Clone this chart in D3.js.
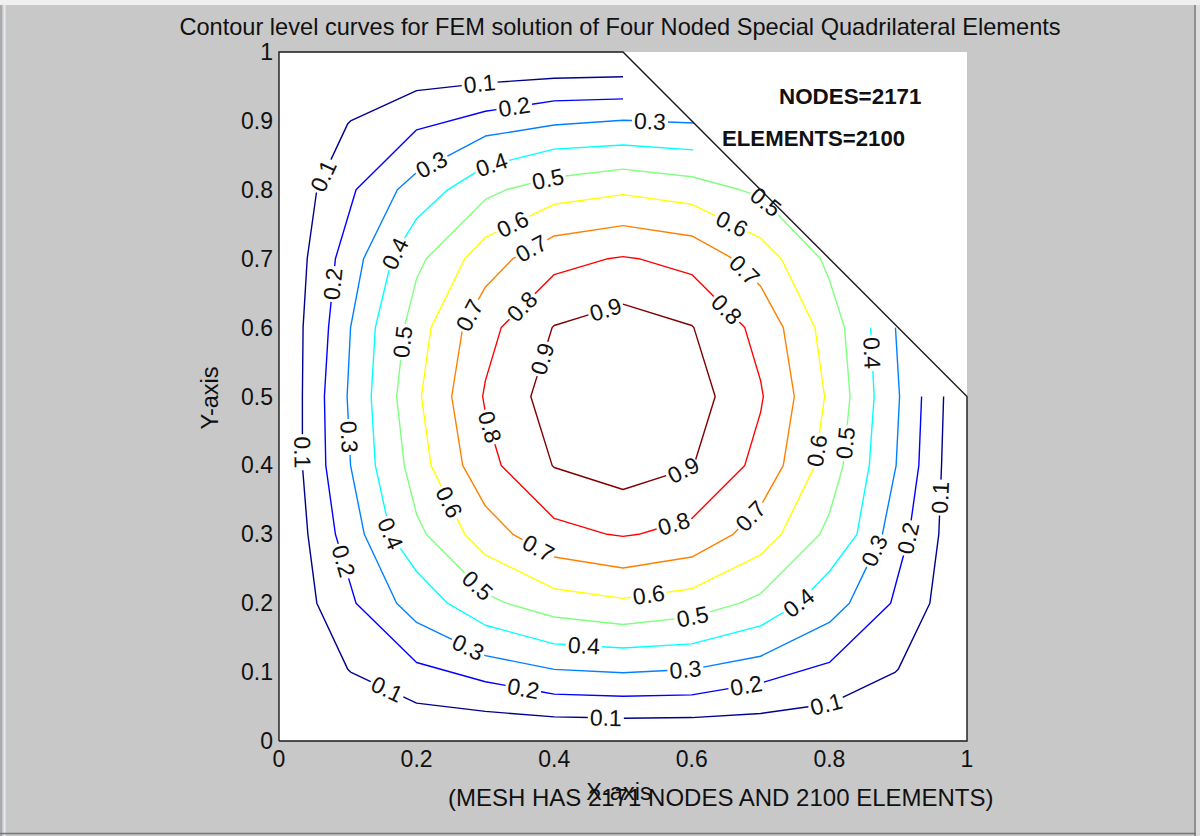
<!DOCTYPE html>
<html>
<head>
<meta charset="utf-8">
<script src="https://cdn.jsdelivr.net/npm/d3@7"></script>
<style>
  html, body { margin: 0; padding: 0; background: #c8c8c8; }
  svg { display: block; }
  text { font-family: "Liberation Sans", Arial, sans-serif; }
</style>
</head>
<body>
<svg id="fig" width="1200" height="836"></svg>
<script>
// ---- chart text ----
const titleText = "Contour level curves for FEM solution of Four Noded Special Quadrilateral Elements";
const xAxisTitle = "X-axis";
const yAxisTitle = "Y-axis";
const meshNote = "(MESH HAS 2171 NODES AND 2100 ELEMENTS)";
const nodesNote = "NODES=2171";
const elementsNote = "ELEMENTS=2100";

// ---- axes ----
const xTickValues = [0, 0.2, 0.4, 0.6, 0.8, 1];
const xTickText = ["0", "0.2", "0.4", "0.6", "0.8", "1"];
const yTickValues = [0, 0.1, 0.2, 0.3, 0.4, 0.5, 0.6, 0.7, 0.8, 0.9, 1];
const yTickText = ["0", "0.1", "0.2", "0.3", "0.4", "0.5", "0.6", "0.7", "0.8", "0.9", "1"];

// ---- domain outline (pentagon with the cut corner) ----
const domainOutline = [[0, 0], [1, 0], [1, 0.5], [0.5, 1], [0, 1], [0, 0]];

// ---- contour levels and their colours ----
const levels = [0.1, 0.2, 0.3, 0.4, 0.5, 0.6, 0.7, 0.8, 0.9];
const levelColors = ["#00008f", "#0000ff", "#0080ff", "#00ffff", "#80ff80",
                     "#ffff00", "#ff8000", "#ff0000", "#800000"];
const levelClosed = [false, false, false, false, true, true, true, true, true];

// ---- contour polylines (x, y), traversed counter-clockwise ----
const curve01 = [[0.5,0.964],[0.4,0.962],[0.3,0.955],[0.2,0.944],[0.104,0.9],[0.1,0.896],[0.055,0.8],
  [0.041,0.7],[0.035,0.6],[0.034,0.5],[0.034,0.4],[0.042,0.3],[0.055,0.2],[0.1,0.104],[0.104,0.1],
  [0.2,0.055],[0.3,0.043],[0.4,0.035],[0.5,0.033],[0.6,0.034],[0.7,0.040],[0.8,0.054],[0.896,0.1],
  [0.9,0.104],[0.946,0.2],[0.959,0.3],[0.963,0.4],[0.966,0.5]];
const curve02 = [[0.5,0.932],[0.4,0.929],[0.3,0.914],[0.2,0.887],[0.112,0.8],[0.082,0.7],[0.072,0.6],
  [0.066,0.5],[0.068,0.4],[0.082,0.3],[0.112,0.2],[0.2,0.114],[0.3,0.086],[0.4,0.068],[0.5,0.065],
  [0.6,0.067],[0.7,0.084],[0.8,0.114],[0.889,0.2],[0.916,0.3],[0.930,0.4],[0.934,0.5]];
const curve03 = [[0.603,0.897],[0.5,0.901],[0.4,0.894],[0.3,0.878],[0.2,0.825],[0.172,0.8],[0.123,0.7],
  [0.104,0.6],[0.099,0.5],[0.104,0.4],[0.124,0.3],[0.171,0.2],[0.2,0.172],[0.3,0.124],[0.4,0.104],
  [0.5,0.099],[0.6,0.104],[0.7,0.123],[0.8,0.172],[0.829,0.2],[0.877,0.3],[0.897,0.4],[0.902,0.5],[0.896,0.6]];
const curve04 = [[0.602,0.858],[0.5,0.865],[0.4,0.859],[0.3,0.834],[0.245,0.8],[0.2,0.758],[0.164,0.7],
  [0.14,0.6],[0.134,0.5],[0.14,0.4],[0.162,0.3],[0.2,0.246],[0.245,0.2],[0.3,0.168],[0.4,0.141],
  [0.5,0.135],[0.6,0.141],[0.7,0.167],[0.755,0.2],[0.8,0.246],[0.84,0.3],[0.858,0.4],[0.865,0.5],[0.86,0.6]];
const curve05 = [[0.5,0.83],[0.4,0.818],[0.33,0.8],[0.3,0.786],[0.214,0.7],[0.2,0.671],[0.182,0.6],
  [0.171,0.5],[0.182,0.4],[0.2,0.329],[0.214,0.3],[0.3,0.214],[0.33,0.2],[0.4,0.18],[0.5,0.169],
  [0.6,0.18],[0.67,0.2],[0.7,0.214],[0.786,0.3],[0.8,0.33],[0.82,0.4],[0.83,0.5],[0.822,0.6],
  [0.8,0.669],[0.787,0.7],[0.7,0.79],[0.67,0.8],[0.6,0.819]];
const curve06 = [[0.5,0.793],[0.4,0.779],[0.3,0.731],[0.27,0.7],[0.221,0.6],[0.207,0.5],[0.221,0.4],
  [0.27,0.3],[0.3,0.27],[0.4,0.221],[0.5,0.207],[0.6,0.221],[0.7,0.27],[0.73,0.3],[0.779,0.4],
  [0.793,0.5],[0.779,0.6],[0.73,0.7],[0.7,0.73],[0.6,0.779]];
const curve07 = [[0.5,0.748],[0.4,0.733],[0.34,0.7],[0.3,0.659],[0.267,0.6],[0.251,0.5],[0.267,0.4],
  [0.3,0.341],[0.34,0.3],[0.4,0.267],[0.5,0.251],[0.6,0.267],[0.66,0.3],[0.7,0.341],[0.733,0.4],
  [0.749,0.5],[0.733,0.6],[0.7,0.66],[0.66,0.7],[0.6,0.733]];
const curve08 = [[0.5,0.703],[0.478,0.7],[0.4,0.677],[0.323,0.6],[0.3,0.523],[0.296,0.5],[0.3,0.477],
  [0.323,0.4],[0.4,0.323],[0.477,0.3],[0.5,0.297],[0.523,0.3],[0.6,0.323],[0.677,0.4],[0.7,0.477],
  [0.704,0.5],[0.7,0.523],[0.677,0.6],[0.6,0.677],[0.523,0.7]];
const curve09 = [[0.5,0.634],[0.4,0.603],[0.397,0.6],[0.366,0.5],[0.397,0.4],[0.4,0.397],[0.5,0.365],
  [0.6,0.397],[0.603,0.4],[0.634,0.5],[0.603,0.6],[0.6,0.603]];
const curves = [curve01, curve02, curve03, curve04, curve05, curve06, curve07, curve08, curve09];

// ---- inline contour labels: [level, x, y] ----
const labelSpots = [
  [0.1,0.292,0.951],[0.1,0.071,0.817],[0.1,0.031,0.419],[0.1,0.156,0.073],[0.1,0.475,0.032],[0.1,0.795,0.056],[0.1,0.968,0.353],
  [0.2,0.342,0.92],[0.2,0.081,0.663],[0.2,0.09,0.26],[0.2,0.354,0.07],[0.2,0.68,0.075],[0.2,0.92,0.293],
  [0.3,0.539,0.894],[0.3,0.222,0.836],[0.3,0.095,0.441],[0.3,0.273,0.132],[0.3,0.591,0.099],[0.3,0.866,0.276],
  [0.4,0.311,0.829],[0.4,0.176,0.703],[0.4,0.166,0.302],[0.4,0.443,0.135],[0.4,0.76,0.196],[0.4,0.858,0.563],
  [0.5,0.392,0.811],[0.5,0.70,0.775],[0.5,0.182,0.579],[0.5,0.287,0.224],[0.5,0.602,0.177],[0.5,0.829,0.432],
  [0.6,0.342,0.745],[0.6,0.655,0.744],[0.6,0.244,0.345],[0.6,0.538,0.209],[0.6,0.785,0.421],
  [0.7,0.369,0.711],[0.7,0.675,0.682],[0.7,0.282,0.615],[0.7,0.377,0.28],[0.7,0.687,0.325],
  [0.8,0.361,0.623],[0.8,0.647,0.623],[0.8,0.307,0.456],[0.8,0.574,0.315],
  [0.9,0.477,0.619],[0.9,0.388,0.553],[0.9,0.589,0.389]
];

// ---- layout ----
const W = 1200, H = 836;
const plot = { left: 279, right: 967, top: 52, bottom: 741 };
const x = d3.scaleLinear().domain([0, 1]).range([plot.left, plot.right]);
const y = d3.scaleLinear().domain([0, 1]).range([plot.bottom, plot.top]);

const svg = d3.select("#fig");

// window background and frame edges
svg.append("rect").attr("width", W).attr("height", H).attr("fill", "#c8c8c8");
svg.append("rect").attr("width", W).attr("height", 5).attr("fill", "#efefef");
svg.append("line").attr("x1", 1).attr("x2", 1).attr("y1", 5).attr("y2", H).attr("stroke", "#a9a9a9").attr("stroke-width", 2);
svg.append("line").attr("x1", 4.5).attr("x2", 4.5).attr("y1", 5).attr("y2", H).attr("stroke", "#e4ebf2").attr("stroke-width", 2);
svg.append("line").attr("x1", 1195).attr("x2", 1195).attr("y1", 5).attr("y2", H).attr("stroke", "#7c7c7c").attr("stroke-width", 1.5);
svg.append("rect").attr("x", 1196).attr("y", 5).attr("width", 4).attr("height", H).attr("fill", "#dedede");
svg.append("line").attr("x1", 0).attr("x2", 1196).attr("y1", 833.5).attr("y2", 833.5).attr("stroke", "#747474").attr("stroke-width", 1.5);

// white axes area
svg.append("rect")
  .attr("x", plot.left).attr("y", plot.top)
  .attr("width", plot.right - plot.left).attr("height", plot.bottom - plot.top)
  .attr("fill", "#ffffff");

// ---- polyline helpers (pixel space, arc-length parametrised) ----
function prepCurve(pts, closed) {
  const p = pts.map(d => [x(d[0]), y(d[1])]);
  if (closed) p.push(p[0].slice());
  const cum = [0];
  for (let i = 1; i < p.length; i++) {
    cum.push(cum[i - 1] + Math.hypot(p[i][0] - p[i - 1][0], p[i][1] - p[i - 1][1]));
  }
  return { p, cum, L: cum[cum.length - 1], closed };
}
function pointAt(c, s) {
  if (c.closed) s = ((s % c.L) + c.L) % c.L;
  else s = Math.max(0, Math.min(c.L, s));
  let i = d3.bisectRight(c.cum, s);
  i = Math.min(Math.max(i, 1), c.p.length - 1);
  const s0 = c.cum[i - 1], s1 = c.cum[i];
  const t = s1 > s0 ? (s - s0) / (s1 - s0) : 0;
  return [c.p[i - 1][0] + t * (c.p[i][0] - c.p[i - 1][0]),
          c.p[i - 1][1] + t * (c.p[i][1] - c.p[i - 1][1])];
}
function projectOnto(c, q) {
  let best = Infinity, bestS = 0;
  for (let i = 1; i < c.p.length; i++) {
    const a = c.p[i - 1], b = c.p[i];
    const dx = b[0] - a[0], dy = b[1] - a[1];
    const len2 = dx * dx + dy * dy;
    let t = len2 ? ((q[0] - a[0]) * dx + (q[1] - a[1]) * dy) / len2 : 0;
    t = Math.max(0, Math.min(1, t));
    const d = Math.hypot(q[0] - (a[0] + t * dx), q[1] - (a[1] + t * dy));
    if (d < best) { best = d; bestS = c.cum[i - 1] + t * Math.sqrt(len2); }
  }
  return bestS;
}
function visiblePieces(c, gaps) {
  const g = [];
  gaps.forEach(([a, b]) => {
    if (c.closed) {
      if (a < 0) { g.push([a + c.L, c.L]); g.push([0, b]); }
      else if (b > c.L) { g.push([a, c.L]); g.push([0, b - c.L]); }
      else g.push([a, b]);
    } else {
      g.push([Math.max(0, a), Math.min(c.L, b)]);
    }
  });
  g.sort((u, v) => u[0] - v[0]);
  const spans = [];
  let cur = 0;
  g.forEach(([a, b]) => { if (a > cur) spans.push([cur, a]); cur = Math.max(cur, b); });
  if (cur < c.L) spans.push([cur, c.L]);
  return spans.map(([u, v]) => {
    const pts = [pointAt(c, u)];
    for (let i = 0; i < c.cum.length; i++) if (c.cum[i] > u && c.cum[i] < v) pts.push(c.p[i]);
    pts.push(pointAt(c, v === c.L && c.closed ? v - 1e-9 : v));
    return pts;
  });
}

// ---- contour labels first (their widths set the line gaps) ----
const prepared = curves.map((pts, i) => prepCurve(pts, levelClosed[i]));
const gaps = levels.map(() => []);
const labelLayer = svg.append("g").attr("class", "contour-labels");
const labelFontSize = 23;

labelSpots.forEach(([lev, lx, ly]) => {
  const k = levels.indexOf(lev);
  const c = prepared[k];
  const t = labelLayer.append("text")
    .text(String(lev))
    .attr("font-size", labelFontSize)
    .attr("fill", "#111")
    .attr("text-anchor", "middle")
    .attr("dominant-baseline", "central");
  const w = t.node().getComputedTextLength();
  const s = projectOnto(c, [x(lx), y(ly)]);
  const p0 = pointAt(c, s - w / 2), p1 = pointAt(c, s + w / 2), pm = pointAt(c, s);
  let ang = Math.atan2(p1[1] - p0[1], p1[0] - p0[0]) * 180 / Math.PI;
  if (ang > 90) ang -= 180; else if (ang < -90) ang += 180;
  t.attr("transform", `translate(${pm[0].toFixed(2)},${pm[1].toFixed(2)}) rotate(${ang.toFixed(2)})`);
  gaps[k].push([s - w / 2 - 2, s + w / 2 + 2]);
});

// ---- contour lines ----
const lineGen = d3.line();
const contourLayer = svg.insert("g", ".contour-labels").attr("class", "contours");
prepared.forEach((c, k) => {
  visiblePieces(c, gaps[k]).forEach(pts => {
    contourLayer.append("path")
      .attr("d", lineGen(pts))
      .attr("fill", "none")
      .attr("stroke", levelColors[k])
      .attr("stroke-width", 1.4)
      .attr("stroke-linejoin", "round");
  });
});

// ---- domain boundary / axes lines ----
svg.insert("path", ".contour-labels")
  .attr("d", d3.line().x(d => x(d[0])).y(d => y(d[1]))(domainOutline))
  .attr("fill", "none")
  .attr("stroke", "#1a1a1a")
  .attr("stroke-width", 1.4);

// ---- tick labels ----
const tickFont = 23;
svg.append("g").selectAll("text").data(xTickValues).join("text")
  .attr("x", d => x(d)).attr("y", 759)
  .attr("text-anchor", "middle").attr("dominant-baseline", "central")
  .attr("font-size", tickFont).attr("fill", "#111")
  .text((d, i) => xTickText[i]);
svg.append("g").selectAll("text").data(yTickValues).join("text")
  .attr("x", 273).attr("y", d => y(d))
  .attr("text-anchor", "end").attr("dominant-baseline", "central")
  .attr("font-size", tickFont).attr("fill", "#111")
  .text((d, i) => yTickText[i]);

// ---- titles ----
svg.append("text").attr("x", 620).attr("y", 27)
  .attr("text-anchor", "middle").attr("dominant-baseline", "central")
  .attr("font-size", 23.6).attr("fill", "#111").text(titleText);
svg.append("text").attr("transform", "translate(210,398) rotate(-90)")
  .attr("text-anchor", "middle").attr("dominant-baseline", "central")
  .attr("font-size", 23.5).attr("fill", "#111").text(yAxisTitle);
svg.append("text").attr("x", 619).attr("y", 792)
  .attr("text-anchor", "middle").attr("dominant-baseline", "central")
  .attr("font-size", 23.5).attr("fill", "#111").text(xAxisTitle);
svg.append("text").attr("x", 448).attr("y", 797)
  .attr("text-anchor", "start").attr("dominant-baseline", "central")
  .attr("font-size", 24).attr("fill", "#111").text(meshNote);

// ---- mesh annotation ----
svg.append("text").attr("x", 779).attr("y", 104)
  .attr("font-family", "Lato, 'Liberation Sans', sans-serif").attr("font-weight", 700)
  .attr("font-size", 22.4).attr("fill", "#111").text(nodesNote);
svg.append("text").attr("x", 722).attr("y", 146)
  .attr("font-family", "Lato, 'Liberation Sans', sans-serif").attr("font-weight", 700)
  .attr("font-size", 22.2).attr("fill", "#111").text(elementsNote);
</script>
</body>
</html>
